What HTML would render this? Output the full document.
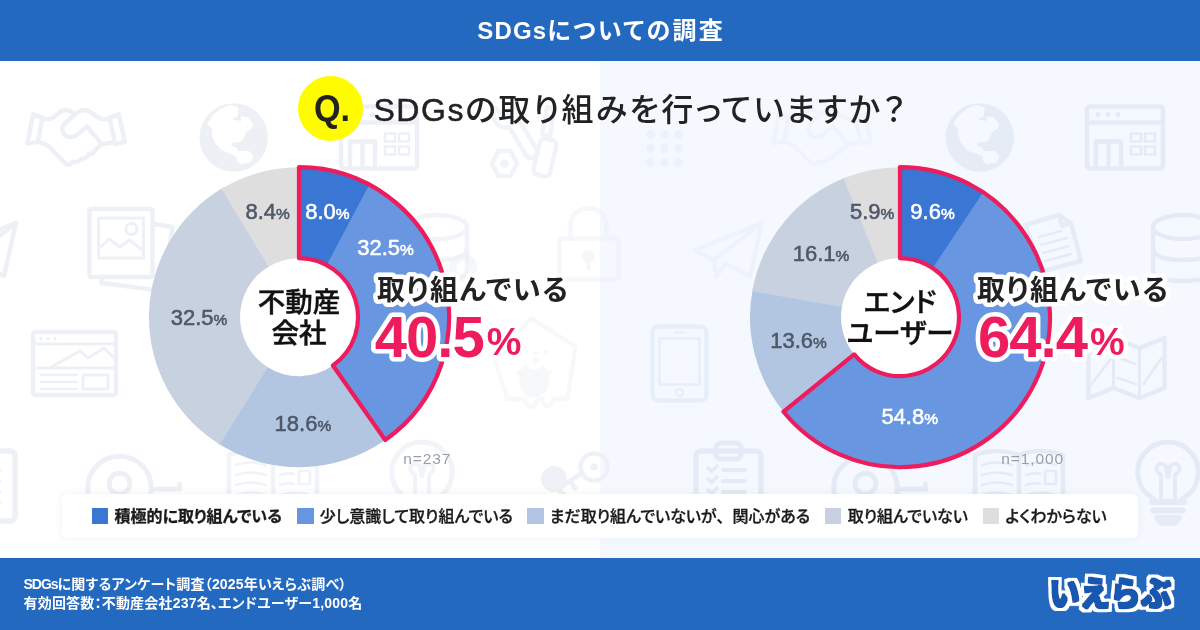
<!DOCTYPE html>
<html lang="ja">
<head>
<meta charset="utf-8">
<title>SDGsについての調査</title>
<style>
*{margin:0;padding:0;box-sizing:border-box}
html,body{width:1200px;height:630px;overflow:hidden;background:#fff}
body{font-family:"Liberation Sans","Noto Sans CJK JP",sans-serif;position:relative;color:#222}
.abs{position:absolute}
#right-bg{position:absolute;left:600px;top:61px;width:600px;height:497px;background:#f5f9ff}
#header{position:absolute;left:0;top:0;width:1200px;height:61px;background:#2469c0;color:#fff;text-align:center;font-weight:700;font-size:24px;line-height:61px;letter-spacing:2.3px;text-indent:2.3px;font-feature-settings:"palt"}
#footer{position:absolute;left:0;top:558px;width:1200px;height:72px;background:#2469c0;color:#fff}
#footer p{position:absolute;left:23.5px;font-size:14px;font-weight:700;line-height:20px;letter-spacing:.2px;white-space:nowrap;font-feature-settings:"palt"}
#qc{position:absolute;left:297.5px;top:76px;width:65px;height:65px;border-radius:50%;background:#fffb00}
#q{position:absolute;left:300px;top:77px;width:64px;height:64px;text-align:center;line-height:64px;font-size:36px;font-weight:700;color:#222;transform:scaleX(.95);transform-origin:50% 50%}
#title{position:absolute;left:373.4px;top:88px;font-size:32px;line-height:44px;font-weight:500;letter-spacing:2.3px;white-space:nowrap;color:#222;font-feature-settings:"palt"}
#legend{position:absolute;left:62px;top:494px;width:1076px;height:44px;background:#fff;border-radius:6px;box-shadow:0 0 10px rgba(40,60,100,.07)}
.li{position:absolute;top:0;height:44px;line-height:44px;font-size:16px;font-weight:500;-webkit-text-stroke:.3px #1a1a1a;white-space:nowrap;color:#1a1a1a;font-feature-settings:"palt"}
.li i{position:absolute;left:0;top:13.8px;width:16.3px;height:16.3px}
.li b{font-weight:700;-webkit-text-stroke:.3px #1a1a1a}
.li em{font-style:normal;font-feature-settings:normal}
.li span{position:absolute;left:22.5px;top:.8px}
.pl{font-size:22px;font-weight:400;text-anchor:middle;fill:#4e5868;stroke:#4e5868;stroke-width:.55px;letter-spacing:0}
.pl tspan{font-size:15.5px}
.pl.w{fill:#fff;stroke:#fff}
.cl{position:absolute;width:200px;margin-left:-100px;text-align:center;font-size:27.5px;line-height:30.7px;font-weight:500;color:#111;-webkit-text-stroke:.45px #111;font-feature-settings:"palt"}
.co{font-weight:700;paint-order:stroke fill;stroke:#fff;stroke-linejoin:round;stroke-linecap:round}
.co.t{font-size:28px;fill:#222;stroke-width:9px;letter-spacing:1.5px;font-feature-settings:"palt"}
.co.n{font-size:58px;fill:#ee1c5c;stroke-width:9px;letter-spacing:-1px}
.co.n tspan{font-size:39px;letter-spacing:0}
.nn{font-size:15.5px;fill:#9a9ea6;letter-spacing:.9px}
#logo{font-size:30.5px;font-weight:900;fill:#1559b0;letter-spacing:0}
</style>
</head>
<body>
<div id="right-bg"></div>
<svg class="abs" style="left:0;top:61px" width="1200" height="497" viewBox="0 61 1200 497" fill="none" stroke-linejoin="round" stroke-linecap="round">
<g color="#edf1f6" stroke="#edf1f6">
<g transform="translate(26 109)" stroke-width="4.5"><path d="M7.1 5.5L16.4 8.6L11.9 32.9L1.4 34.6Z"/><path d="M83.5 8.6L92.8 5.5L98.8 32.7L89.2 35.3Z"/><path d="M16.4 10L25.2 10.3L34.5 2.5Q39 0.5 44 2L49 5.5L53.5 2.5Q58 0.5 63 2L75 10.3L83.5 10"/><path d="M12.1 32.7L22 36.5L39.8 54.7Q42 56.5 44 55.3L47 52.7L51.1 52.9L55 50.3L59.2 49.3L63 45.2L67.2 44L70.8 39.2L76.1 35.3L89.2 32.7"/><path d="M49 5.5L38.3 14.8Q35 19 36.9 22.9Q38.5 27 41.6 27.9Q46 28.5 50 26.7L60.9 17.4L75.5 34.8"/></g>
<g transform="translate(233.75 137.5)" stroke-width="4.5"><circle r="34.3" fill="currentColor" stroke="none"/><path d="M-25.7 -13.8L-19.6 -22.6L-11.5 -28.6L-3.4 -32L4 -29.3L3.3 -21.2L-1.4 -19.9L-1.4 -16.5L4.7 -16.5L5.4 -13.8L7.4 -14.5L8.1 -20.5L14.1 -19.2L18.2 -13.1L17.5 -9.7L11.4 -5.7L9.4 0.4L6 3.8L-2.1 4.4L-3.4 8.5L2 10.5L4 14.6L14.1 13.9L18.9 18.6L16.8 24L7.4 26L4 23.3L3.3 18.6L-3.4 15.2L-11.5 12.5L-18.3 4.4L-21 -2.3L-21 -9.7Z" fill="#ffffff" stroke="#ffffff" stroke-width="1.5"/></g>
<g transform="translate(339 104.5)" stroke-width="4.5"><rect x="2" y="2" width="76" height="62" rx="3"/><path d="M2 18H78"/><circle cx="13" cy="10" r="2.6" fill="currentColor" stroke="none"/><circle cx="23" cy="10" r="2.6" fill="currentColor" stroke="none"/><circle cx="33" cy="10" r="2.6" fill="currentColor" stroke="none"/><path d="M11 62V37H36V62M23.5 37V62"/><rect x="46" y="29" width="10" height="8" stroke-width="2.6"/><rect x="60" y="29" width="10" height="8" stroke-width="2.6"/><rect x="46" y="42" width="10" height="8" stroke-width="2.6"/><rect x="60" y="42" width="10" height="8" stroke-width="2.6"/></g>
<g transform="translate(490 105)" opacity="0.8" stroke-width="4.5"><path d="M6 3Q0 12 8 20Q13 24 19 22L36 50Q40 55 45 52Q49 48 46 43L29 15Q31 7 24 1L19 9L12 10Z"/><path d="M57 2L64 4L60 31L52 29Z"/><path d="M34 22L44 40" stroke-width="3.4"/><rect x="46.5" y="34" width="17" height="37" rx="5" transform="rotate(13 55 52.5)"/><path d="M8.5 46L20.5 46L27 58.5L20.5 71L8.5 71L2 58.5Z"/><circle cx="14.5" cy="58.5" r="4.2" fill="currentColor" stroke="none"/></g>
<g transform="translate(-54 220)" stroke-width="4.5"><path d="M3 30L70 3L58 56L34 44L24 57L22 40Z"/><path d="M70 3L22 40"/></g>
<g transform="translate(87.5 207)" stroke-width="4.5"><path d="M66 17L85 20L76 84L14 76L15 70"/><rect x="2" y="2" width="63" height="68" rx="2"/><rect x="11" y="11" width="45" height="40" stroke-width="3"/><path d="M11 42L22 32L32 40L42 33L56 44" stroke-width="3"/><circle cx="44" cy="22" r="5.5" stroke-width="3"/></g>
<g transform="translate(404.5 213)" opacity="0.8" stroke-width="4.5"><ellipse cx="32.5" cy="14" rx="30" ry="12"/><path d="M2.5 14V56Q2.5 68 32.5 68Q62.5 68 62.5 56V14"/><path d="M2.5 35Q2.5 47 32.5 47Q62.5 47 62.5 35"/></g>
<g transform="translate(443 248)" opacity="0.5" stroke-width="4.5"><circle cx="20" cy="20" r="11" stroke-width="7" stroke-dasharray="5.5 3.1"/><circle cx="20" cy="20" r="9"/></g>
<g transform="translate(557.5 206.5)" opacity="0.55" stroke-width="4.5"><path d="M13 32V22Q13 2 31 2Q49 2 49 22V32"/><rect x="2" y="32" width="59" height="41" rx="3"/><path d="M31 54a4.2 4.2 0 1 1 0.01 0M31 56V62" fill="currentColor" stroke-width="4"/></g>
<g transform="translate(31 330)" stroke-width="4.5"><rect x="2" y="2" width="83" height="63" rx="3"/><path d="M2 14H85M2 38H85" stroke-width="3"/><circle cx="10" cy="8.5" r="1.8" fill="currentColor" stroke="none"/><circle cx="17" cy="8.5" r="1.8" fill="currentColor" stroke="none"/><circle cx="24" cy="8.5" r="1.8" fill="currentColor" stroke="none"/><path d="M20 37L49 21L57 28L73 18L85 30" stroke-width="3"/><path d="M10 45H46M10 52H46M10 59H46" stroke-width="2.6"/><rect x="52" y="45" width="25" height="14" stroke-width="3"/></g>
<g transform="translate(493.5 320)" opacity="0.45" stroke-width="4.5"><path d="M37.5 -1.8L82 26.7L74 79L60 79Q57 88 52 86Q49 84 49 79Q43 79 42 84Q38 90 33 84L31 79L13.7 79L1 39.4Z"/><path d="M22 52Q30 50 31 44Q36 50 42 49Q47 50 50 43Q52 52 60 50Q54 56 56 62Q54 72 46 76Q40 80 34 76Q26 72 26 62Q26 56 22 52Z" fill="currentColor" stroke="none"/><circle cx="42.5" cy="40.5" r="3.2" fill="currentColor" stroke="none"/><circle cx="42.5" cy="33" r="2" fill="currentColor" stroke="none"/><circle cx="52" cy="32.5" r="2.4" fill="currentColor" stroke="none"/></g>
<g transform="translate(-49 442)" stroke-width="4.5"><rect x="-1" y="9" width="65" height="70" rx="5" stroke-width="5.5"/><path d="M19 6Q19 1 25 1H38Q44 1 44 6V12Q44 17 38 17H25Q19 17 19 12Z" stroke-width="5"/><path d="M26 28H48M26 39H48M26 50H48M26 61H48" stroke-width="4"/><path d="M11 26L14.5 29.5L20 24M11 37L14.5 40.5L20 35M11 48L14.5 51.5L20 46" stroke-width="3.6"/></g>
<g transform="translate(119.5 488)" stroke-width="4.5"><circle r="31.8" stroke-width="5"/><circle cy="-4.4" r="10.4" stroke-width="5"/><path d="M34 1H60V-4" stroke-width="5"/></g>
<g transform="translate(226 447)" opacity="0.8" stroke-width="4.5"><path d="M3 8Q25 0 47 8Q69 0 91 8V70Q69 62 47 70Q25 62 3 70Z"/><path d="M47 8V70"/><path d="M10 18Q25 13 40 18M10 28Q25 23 40 28M10 38Q25 33 40 38M10 48Q25 43 40 48M10 58Q25 53 40 58" stroke-width="2.6"/><path d="M54 18Q69 13 84 18M54 28Q62 25 68 27M54 38Q62 35 68 37M54 48Q69 43 84 48M54 58Q69 53 84 58" stroke-width="2.6"/><rect x="73" y="24" width="11" height="13" stroke-width="2.6"/></g>
<g transform="translate(422 472)" opacity="0.75" stroke-width="4.5"><path d="M-14 27A30.2 30.2 0 1 1 14 27" stroke-width="5"/><path d="M-7 28V3Q-13 -1 -11 -6Q-8 -10 -3 -7Q-1 -5 -1.5 -1M7 28V3Q13 -1 11 -6Q8 -10 3 -7Q1 -5 1.5 -1" stroke-width="4"/><ellipse cx="0" cy="2.5" rx="2.8" ry="4" fill="currentColor" stroke="none"/><path d="M-16 30H16M-15 38.5H15" stroke-width="6"/><path d="M-13 44H13Q12 52 6 53H-6Q-12 52 -13 44Z" fill="currentColor" stroke-width="2"/></g>
<g transform="translate(540 451)" opacity="0.9" stroke-width="4.5"><circle cx="14" cy="28" r="13" fill="currentColor" stroke="none"/><circle cx="54" cy="16" r="13.5"/><circle cx="54" cy="16" r="3.5" fill="currentColor" stroke="none"/><path d="M42 22L18 38L24 44M30 30L35 37" stroke-width="5"/></g>
</g>
<g color="#e4ebf6" stroke="#e4ebf6">
<g transform="translate(646 130)" opacity="0.45" stroke-width="4.5"><circle cx="4.5" cy="4.5" r="4.5" fill="currentColor" stroke="none"/><circle cx="18.5" cy="4.5" r="4.5" fill="currentColor" stroke="none"/><circle cx="32.5" cy="4.5" r="4.5" fill="currentColor" stroke="none"/><circle cx="4.5" cy="18.5" r="4.5" fill="currentColor" stroke="none"/><circle cx="18.5" cy="18.5" r="4.5" fill="currentColor" stroke="none"/><circle cx="32.5" cy="18.5" r="4.5" fill="currentColor" stroke="none"/><circle cx="4.5" cy="32.5" r="4.5" fill="currentColor" stroke="none"/><circle cx="18.5" cy="32.5" r="4.5" fill="currentColor" stroke="none"/><circle cx="32.5" cy="32.5" r="4.5" fill="currentColor" stroke="none"/></g>
<g transform="translate(772 109)" opacity="0.3" stroke-width="4.5"><path d="M7.1 5.5L16.4 8.6L11.9 32.9L1.4 34.6Z"/><path d="M83.5 8.6L92.8 5.5L98.8 32.7L89.2 35.3Z"/><path d="M16.4 10L25.2 10.3L34.5 2.5Q39 0.5 44 2L49 5.5L53.5 2.5Q58 0.5 63 2L75 10.3L83.5 10"/><path d="M12.1 32.7L22 36.5L39.8 54.7Q42 56.5 44 55.3L47 52.7L51.1 52.9L55 50.3L59.2 49.3L63 45.2L67.2 44L70.8 39.2L76.1 35.3L89.2 32.7"/><path d="M49 5.5L38.3 14.8Q35 19 36.9 22.9Q38.5 27 41.6 27.9Q46 28.5 50 26.7L60.9 17.4L75.5 34.8"/></g>
<g transform="translate(979.75 137.5)" opacity="0.9" stroke-width="4.5"><circle r="34.3" fill="currentColor" stroke="none"/><path d="M-25.7 -13.8L-19.6 -22.6L-11.5 -28.6L-3.4 -32L4 -29.3L3.3 -21.2L-1.4 -19.9L-1.4 -16.5L4.7 -16.5L5.4 -13.8L7.4 -14.5L8.1 -20.5L14.1 -19.2L18.2 -13.1L17.5 -9.7L11.4 -5.7L9.4 0.4L6 3.8L-2.1 4.4L-3.4 8.5L2 10.5L4 14.6L14.1 13.9L18.9 18.6L16.8 24L7.4 26L4 23.3L3.3 18.6L-3.4 15.2L-11.5 12.5L-18.3 4.4L-21 -2.3L-21 -9.7Z" fill="#f5f9ff" stroke="#f5f9ff" stroke-width="1.5"/></g>
<g transform="translate(1085 104.5)" stroke-width="4.5"><rect x="2" y="2" width="76" height="62" rx="3"/><path d="M2 18H78"/><circle cx="13" cy="10" r="2.6" fill="currentColor" stroke="none"/><circle cx="23" cy="10" r="2.6" fill="currentColor" stroke="none"/><circle cx="33" cy="10" r="2.6" fill="currentColor" stroke="none"/><path d="M11 62V37H36V62M23.5 37V62"/><rect x="46" y="29" width="10" height="8" stroke-width="2.6"/><rect x="60" y="29" width="10" height="8" stroke-width="2.6"/><rect x="46" y="42" width="10" height="8" stroke-width="2.6"/><rect x="60" y="42" width="10" height="8" stroke-width="2.6"/></g>
<g transform="translate(692 220)" opacity="0.4" stroke-width="4.5"><path d="M3 30L70 3L58 56L34 44L24 57L22 40Z"/><path d="M70 3L22 40"/></g>
<g transform="translate(833.5 207)" opacity="0.8" stroke-width="4.5"><path d="M66 17L85 20L76 84L14 76L15 70"/><rect x="2" y="2" width="63" height="68" rx="2"/><rect x="11" y="11" width="45" height="40" stroke-width="3"/><path d="M11 42L22 32L32 40L42 33L56 44" stroke-width="3"/><circle cx="44" cy="22" r="5.5" stroke-width="3"/></g>
<g transform="translate(1021 213)" opacity="0.9" stroke-width="4.5"><path d="M4 12L38 2L50 10L60 48L22 58Z"/><path d="M38 2L41 13L50 10"/><path d="M18 24L40 18M20 32L46 25M22 40L48 33M24 48L50 41" stroke-width="2.6"/></g>
<g transform="translate(1150.5 213)" stroke-width="4.5"><ellipse cx="32.5" cy="14" rx="30" ry="12"/><path d="M2.5 14V56Q2.5 68 32.5 68Q62.5 68 62.5 56V14"/><path d="M2.5 35Q2.5 47 32.5 47Q62.5 47 62.5 35"/></g>
<g transform="translate(1085.5 334)" stroke-width="4.5"><path d="M3 14L28 4L54 14L79 4V54L54 64L28 54L3 64Z"/><path d="M28 4V54M54 14V64" stroke-width="3"/><path d="M6 50L26 24M32 44L50 50M58 50L76 24M34 24L50 30" stroke-width="2.6"/></g>
<g transform="translate(650.5 324.5)" opacity="0.75" stroke-width="4.5"><rect x="2" y="2" width="54" height="74" rx="6"/><rect x="9" y="14" width="40" height="46" stroke-width="2.6"/><circle cx="29" cy="68" r="3.4" stroke-width="2.4"/><path d="M25 8H33" stroke-width="2.6"/></g>
<g transform="translate(697 442)" stroke-width="4.5"><rect x="-1" y="9" width="65" height="70" rx="5" stroke-width="5.5"/><path d="M19 6Q19 1 25 1H38Q44 1 44 6V12Q44 17 38 17H25Q19 17 19 12Z" stroke-width="5"/><path d="M26 28H48M26 39H48M26 50H48M26 61H48" stroke-width="4"/><path d="M11 26L14.5 29.5L20 24M11 37L14.5 40.5L20 35M11 48L14.5 51.5L20 46" stroke-width="3.6"/></g>
<g transform="translate(865.5 488)" stroke-width="4.5"><circle r="31.8" stroke-width="5"/><circle cy="-4.4" r="10.4" stroke-width="5"/><path d="M34 1H60V-4" stroke-width="5"/></g>
<g transform="translate(972 447)" stroke-width="4.5"><path d="M3 8Q25 0 47 8Q69 0 91 8V70Q69 62 47 70Q25 62 3 70Z"/><path d="M47 8V70"/><path d="M10 18Q25 13 40 18M10 28Q25 23 40 28M10 38Q25 33 40 38M10 48Q25 43 40 48M10 58Q25 53 40 58" stroke-width="2.6"/><path d="M54 18Q69 13 84 18M54 28Q62 25 68 27M54 38Q62 35 68 37M54 48Q69 43 84 48M54 58Q69 53 84 58" stroke-width="2.6"/><rect x="73" y="24" width="11" height="13" stroke-width="2.6"/></g>
<g transform="translate(1168 472)" stroke-width="4.5"><path d="M-14 27A30.2 30.2 0 1 1 14 27" stroke-width="5"/><path d="M-7 28V3Q-13 -1 -11 -6Q-8 -10 -3 -7Q-1 -5 -1.5 -1M7 28V3Q13 -1 11 -6Q8 -10 3 -7Q1 -5 1.5 -1" stroke-width="4"/><ellipse cx="0" cy="2.5" rx="2.8" ry="4" fill="currentColor" stroke="none"/><path d="M-16 30H16M-15 38.5H15" stroke-width="6"/><path d="M-13 44H13Q12 52 6 53H-6Q-12 52 -13 44Z" fill="currentColor" stroke-width="2"/></g>
</g>
</svg>
<div id="header"><span style="letter-spacing:1.2px">SDGs</span>についての調査</div>
<div id="qc"></div><div id="q">Q.</div>
<div id="title"><span style="letter-spacing:1.6px;-webkit-text-stroke:.5px #222">SDGs</span>の取り組みを行っていますか？</div>
<svg class="abs" style="left:0;top:0" width="1200" height="630" viewBox="0 0 1200 630">
<circle cx="299" cy="317.2" r="60" fill="#fff"/>
<path d="M296.17 167.23A150 150 0 0 1 371.68 185.98L327.59 265.59A59 59 0 0 0 297.89 258.21Z" fill="#3a76d4"/>
<path d="M369.19 184.64A150 150 0 0 1 382.92 441.53L332.01 366.1A59 59 0 0 0 326.61 265.06Z" fill="#6996e0"/>
<path d="M385.25 439.92A150 150 0 0 1 217.44 443.09L266.92 366.72A59 59 0 0 0 332.93 365.47Z" fill="#b2c6e2"/>
<path d="M219.82 444.6A150 150 0 0 1 223.86 187.37L269.45 266.14A59 59 0 0 0 267.86 367.31Z" fill="#c8d1e0"/>
<path d="M221.43 188.81A150 150 0 0 1 299 167.2L299 258.2A59 59 0 0 0 268.49 266.7Z" fill="#dedede"/>
<path d="M299 167.2A150 150 0 0 1 385.25 439.92L332.93 365.47A59 59 0 0 0 299 258.2Z" fill="none" stroke="#ee1c5c" stroke-width="4.2" stroke-linejoin="round"/>
<circle cx="900" cy="317.2" r="60" fill="#fff"/>
<path d="M897.17 167.23A150 150 0 0 1 985.48 193.94L933.62 268.72A59 59 0 0 0 898.89 258.21Z" fill="#3a76d4"/>
<path d="M983.14 192.35A150 150 0 1 1 781.77 409.51L853.49 353.51A59 59 0 1 0 932.7 268.09Z" fill="#6996e0"/>
<path d="M783.53 411.72A150 150 0 0 1 752.75 288.63L842.08 305.96A59 59 0 0 0 854.19 354.38Z" fill="#b2c6e2"/>
<path d="M752.23 291.41A150 150 0 0 1 846.1 177.22L878.8 262.14A59 59 0 0 0 841.88 307.06Z" fill="#c8d1e0"/>
<path d="M843.47 178.26A150 150 0 0 1 900 167.2L900 258.2A59 59 0 0 0 877.76 262.55Z" fill="#dedede"/>
<path d="M900 167.2A150 150 0 1 1 783.53 411.72L854.19 354.38A59 59 0 1 0 900 258.2Z" fill="none" stroke="#ee1c5c" stroke-width="4.2" stroke-linejoin="round"/>
</svg>
<svg class="abs" style="left:0;top:0" width="1200" height="630" viewBox="0 0 1200 630">
<text class="pl w" x="327.4" y="218.8">8.0<tspan>%</tspan></text>
<text class="pl w" x="385.5" y="255.3">32.5<tspan>%</tspan></text>
<text class="pl" x="302.9" y="430.7">18.6<tspan>%</tspan></text>
<text class="pl" x="199.1" y="325.2">32.5<tspan>%</tspan></text>
<text class="pl" x="267.6" y="218.8">8.4<tspan>%</tspan></text>
<text class="pl w" x="932.5" y="218.8">9.6<tspan>%</tspan></text>
<text class="pl w" x="909.7" y="424.4">54.8<tspan>%</tspan></text>
<text class="pl" x="798.6" y="348.2">13.6<tspan>%</tspan></text>
<text class="pl" x="821.1" y="261.3">16.1<tspan>%</tspan></text>
<text class="pl" x="872.1" y="218.8">5.9<tspan>%</tspan></text>
</svg>
<div class="cl" style="left:299px;top:288.3px">不動産<br>会社</div>
<div class="cl" style="left:900px;top:288.3px">エンド<br>ユーザー</div>
<svg class="abs" style="left:0;top:0" width="1200" height="630" viewBox="0 0 1200 630">
<text class="nn" x="403.3" y="464">n=237</text>
<text class="nn" x="1001.3" y="464">n=1,000</text>
<text class="co t" x="377" y="300">取り組んでいる</text>
<text class="co n" x="374.8" y="357">40.5<tspan dx="3" dy="-2.5">%</tspan></text>
<text class="co t" x="977" y="300">取り組んでいる</text>
<text class="co n" x="978" y="357">64.4<tspan dx="3" dy="-2.5">%</tspan></text>
</svg>
<div id="legend">
<div class="li" style="left:30px"><i style="background:#3a76d4"></i><span><b>積極的に取り組んでいる</b></span></div>
<div class="li" style="left:235.3px"><i style="background:#6996e0"></i><span>少し意識して取り組んでいる</span></div>
<div class="li" style="left:465.3px"><i style="background:#b3c5e3"></i><span>まだ取り組んでいないが<em>、</em>関心がある</span></div>
<div class="li" style="left:763.2px"><i style="background:#c8d1e0"></i><span>取り組んでいない</span></div>
<div class="li" style="left:921px"><i style="background:#dedede"></i><span>よくわからない</span></div>
</div>
<div id="footer">
<p style="top:15.5px"><span style="letter-spacing:-1px">SDGs</span>に関するアンケート調査（2025年いえらぶ調べ）</p>
<p style="top:35.2px">有効回答数：不動産会社237名、エンドユーザー1,000名</p>
<svg class="abs" style="left:1030px;top:0" width="170" height="72" viewBox="0 0 170 72"><filter id="lg" x="-10%" y="-25%" width="120%" height="150%"><feMorphology in="SourceAlpha" operator="dilate" radius="3.9" result="o"/><feFlood flood-color="#fff"/><feComposite in2="o" operator="in" result="w"/><feMorphology in="SourceGraphic" operator="dilate" radius="0.9" result="t"/><feMerge><feMergeNode in="w"/><feMergeNode in="t"/></feMerge></filter><text id="logo" x="19.2" y="43" transform="translate(0 1.2) scale(1 1.1)" filter="url(#lg)">いえらぶ</text></svg>
</div>
</body>
</html>
